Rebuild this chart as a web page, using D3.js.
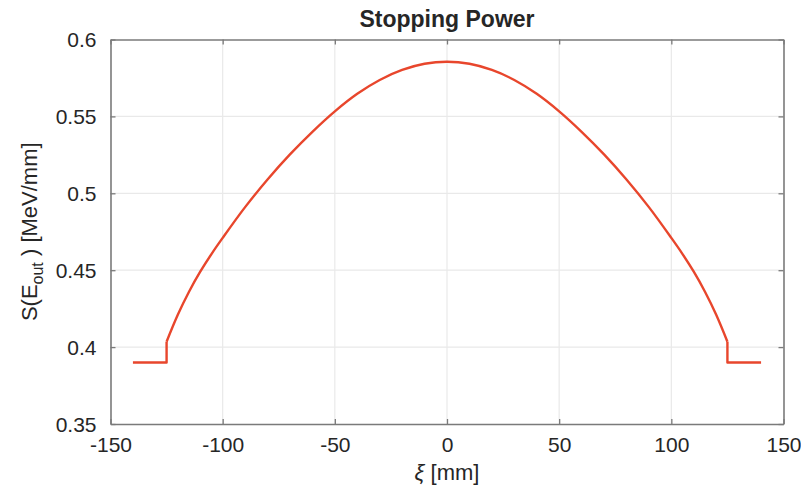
<!DOCTYPE html>
<html>
<head>
<meta charset="utf-8">
<script src="https://cdn.jsdelivr.net/npm/d3@7"></script>
<style>
  html, body { margin: 0; padding: 0; background: #fff; }
  svg { display: block; }
  text { font-family: "Liberation Sans", Arial, Helvetica, sans-serif; fill: #262626; }
</style>
</head>
<body>
<svg id="chart" width="801" height="495"></svg>
<script>
// Position across the detector [mm] and stopping power of the outgoing beam [MeV/mm]
const xiCurve = [-125, -120, -115, -110, -105, -100, -90, -80, -70, -60, -50, -40, -30, -20, -10,
                 0, 10, 20, 30, 40, 50, 60, 70, 80, 90, 100, 105, 110, 115, 120, 125];
const sCurve  = [0.4035, 0.4210, 0.4360, 0.4490, 0.4605, 0.4710, 0.4910, 0.5090, 0.5253, 0.5400,
                 0.5533, 0.5647, 0.5737, 0.5802, 0.5842, 0.5855, 0.5842, 0.5802, 0.5737, 0.5647,
                 0.5533, 0.5400, 0.5253, 0.5090, 0.4910, 0.4710, 0.4605, 0.4490, 0.4360, 0.4210, 0.4035];
// Flat plateau outside the body, left and right
const xiLeft  = [-140, -125, -125];
const sLeft   = [0.39, 0.39, 0.4035];
const xiRight = [125, 125, 140];
const sRight  = [0.4035, 0.39, 0.39];

const xTicks = [-150, -100, -50, 0, 50, 100, 150];
const xTickLabels = ["-150", "-100", "-50", "0", "50", "100", "150"];
const yTicks = [0.35, 0.4, 0.45, 0.5, 0.55, 0.6];
const yTickLabels = ["0.35", "0.4", "0.45", "0.5", "0.55", "0.6"];

const titleText = "Stopping Power";

const svg = d3.select("#chart");
const m = { left: 110.5, right: 783.5, top: 39.5, bottom: 424 };

const x = d3.scaleLinear().domain([-150, 150]).range([m.left, m.right]);
const y = d3.scaleLinear().domain([0.35, 0.6]).range([m.bottom, m.top]);

const axisColor = "#7a7a7a";
const tickLen = 5;

// grid
const grid = svg.append("g");
grid.selectAll("line.gx").data(xTicks.slice(1, -1)).enter().append("line")
  .attr("x1", d => x(d)).attr("x2", d => x(d))
  .attr("y1", m.top).attr("y2", m.bottom)
  .attr("stroke", "#e9e9e9").attr("stroke-width", 1.2);
grid.selectAll("line.gy").data(yTicks.slice(1, -1)).enter().append("line")
  .attr("y1", d => y(d)).attr("y2", d => y(d))
  .attr("x1", m.left).attr("x2", m.right)
  .attr("stroke", "#e9e9e9").attr("stroke-width", 1.2);

// data line
const zip = (a, b) => a.map((v, i) => [v, b[i]]);
const color = "#e8462c";
const linear = d3.line().x(d => x(d[0])).y(d => y(d[1])).curve(d3.curveLinear);
const smooth = d3.line().x(d => x(d[0])).y(d => y(d[1])).curve(d3.curveCatmullRom.alpha(0.5));
[[zip(xiLeft, sLeft), linear], [zip(xiCurve, sCurve), smooth], [zip(xiRight, sRight), linear]]
  .forEach(([pts, gen]) => {
    svg.append("path").datum(pts).attr("d", gen)
      .attr("fill", "none").attr("stroke", color).attr("stroke-width", 2.4)
      .attr("stroke-linejoin", "round");
  });

// axes: bottom and left with labels, inward ticks; top and right mirrored
const xAxis = d3.axisBottom(x).tickValues(xTicks).tickSizeInner(-tickLen).tickSizeOuter(0)
  .tickPadding(13).tickFormat((d, i) => xTickLabels[i]);
const yAxis = d3.axisLeft(y).tickValues(yTicks).tickSizeInner(-tickLen).tickSizeOuter(0)
  .tickPadding(14).tickFormat((d, i) => yTickLabels[i]);

const gx = svg.append("g").attr("transform", `translate(0,${m.bottom})`).call(xAxis);
const gy = svg.append("g").attr("transform", `translate(${m.left},0)`).call(yAxis);
const gxt = svg.append("g").attr("transform", `translate(0,${m.top})`)
  .call(d3.axisTop(x).tickValues(xTicks).tickSizeInner(-tickLen).tickSizeOuter(0).tickFormat(""));
const gyr = svg.append("g").attr("transform", `translate(${m.right},0)`)
  .call(d3.axisRight(y).tickValues(yTicks).tickSizeInner(-tickLen).tickSizeOuter(0).tickFormat(""));

[gx, gy, gxt, gyr].forEach(g => {
  g.select(".domain").attr("stroke", axisColor).attr("stroke-width", 1.6);
  g.selectAll(".tick line").attr("stroke", axisColor).attr("stroke-width", 1.3);
  g.selectAll(".tick text").attr("fill", "#333").attr("font-size", 21)
    .attr("font-family", "'Liberation Sans', Arial, sans-serif");
});
gy.selectAll(".tick text").attr("dy", "0.34em");

// title
svg.append("text").attr("x", (m.left + m.right) / 2).attr("y", 27)
  .attr("text-anchor", "middle").attr("font-size", 23).attr("font-weight", "bold")
  .attr("fill", "#1a1a1a").text(titleText);

// x label
const xl = svg.append("text").attr("x", (m.left + m.right) / 2).attr("y", 480)
  .attr("text-anchor", "middle").attr("font-size", 22).attr("fill", "#333");
xl.append("tspan").attr("font-style", "italic").text("ξ");
xl.append("tspan").text(" [mm]");

// y label
const yl = svg.append("text")
  .attr("transform", `translate(37,${(m.top + m.bottom) / 2}) rotate(-90)`)
  .attr("text-anchor", "middle").attr("font-size", 22).attr("fill", "#333");
yl.append("tspan").text("S(E");
yl.append("tspan").attr("font-size", 16).attr("dy", 6).text("out");
yl.append("tspan").attr("dy", -6).text(" ) [MeV/mm]");
</script>
</body>
</html>
